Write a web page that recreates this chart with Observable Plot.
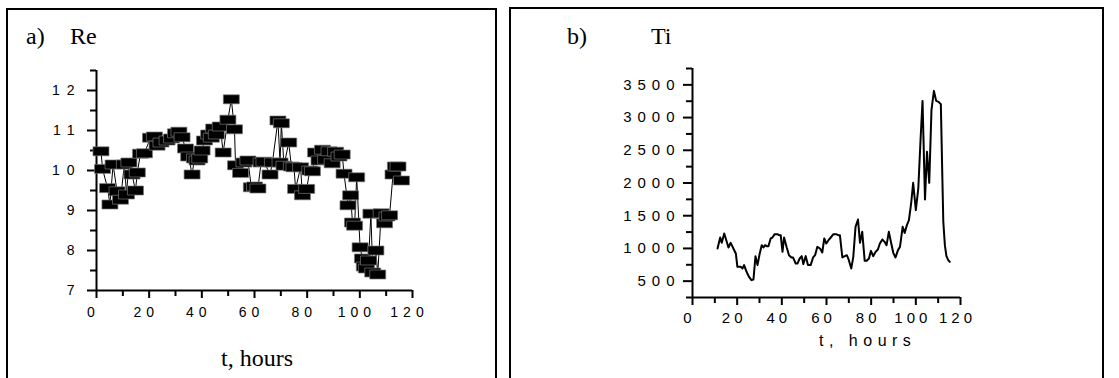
<!DOCTYPE html>
<html><head><meta charset="utf-8">
<script src="https://cdn.jsdelivr.net/npm/d3@7"></script>
<script src="https://cdn.jsdelivr.net/npm/@observablehq/plot@0.6"></script>
<style>
body{margin:0;background:#fff;width:1119px;height:378px;overflow:hidden;position:relative}
.box{position:absolute;border:2px solid #000;border-bottom:none;box-sizing:border-box}
.plot{position:absolute;top:0}
#titles{position:absolute;left:0;top:0}
</style></head><body>
<div id="a" class="plot" style="left:0"></div>
<div id="b" class="plot" style="left:505px"></div>
<div class="box" style="left:6px;top:8px;width:491px;height:380px"></div>
<div class="box" style="left:509px;top:7px;width:595px;height:380px"></div>
<svg id="titles" width="1119" height="378">
  <g font-family="Liberation Serif, Times New Roman, serif" font-size="24" fill="#000">
    <text x="26" y="44">a)</text>
    <text x="70" y="44">Re</text>
    <text x="257" y="366" text-anchor="middle">t, hours</text>
    <text x="567" y="44">b)</text>
    <text x="651" y="44">Ti</text>
  </g>
  <text x="819" y="346" font-family="Liberation Sans, Arial, sans-serif" font-size="16" letter-spacing="5.5">t, hours</text>
</svg>
<script>
// Panel a) Re
const reHours = [1.7,2.3,4.2,5.1,6.3,7.8,9.1,10.6,11.4,12.3,13.5,14.8,15.5,16.7,18.2,20.5,22.0,23.0,24.5,26.8,28.5,30.0,31.3,32.5,33.8,35.0,36.3,37.2,38.2,39.2,40.1,41.0,42.6,43.6,44.5,45.5,47.0,48.1,49.9,51.2,52.4,52.8,54.7,56.0,57.5,58.8,60.0,61.3,62.5,63.6,65.9,66.8,68.9,69.7,70.2,71.2,73.0,74.0,75.0,75.6,77.5,78.2,79.8,81.0,82.0,83.2,84.5,85.8,87.0,88.3,89.5,90.8,92.1,93.3,94.0,95.5,96.5,97.2,98.0,98.8,100.1,101.0,101.7,102.5,103.3,104.2,104.9,106.1,106.8,108.1,109.4,110.3,111.3,112.6,113.5,114.5,115.8];
const reValues = [10.48,10.04,9.56,9.15,10.15,9.48,9.27,10.15,9.4,10.2,9.9,9.5,9.95,10.42,10.43,10.82,10.85,10.62,10.7,10.75,10.8,10.93,10.97,10.83,10.55,10.35,9.9,10.3,10.25,10.3,10.5,10.75,10.9,10.82,11.05,10.9,11.1,10.45,11.27,11.78,11.03,10.13,9.94,10.2,10.25,9.58,9.6,9.55,10.2,10.22,9.9,10.2,11.25,10.2,11.18,10.12,10.7,10.1,10.08,9.54,10.08,9.38,9.54,10.0,9.98,10.45,10.25,10.52,10.27,10.48,10.18,10.47,10.35,10.4,9.92,9.13,9.38,8.7,8.62,9.83,8.08,7.8,7.6,7.55,7.75,8.92,7.45,8.0,7.4,8.93,8.68,8.85,8.88,9.9,10.1,10.1,9.75];
const reYTicks = [7,8,9,10,11,12];
const reYMinor = [7.5,8.5,9.5,10.5,11.5,12.5];
const xTicks = [0,20,40,60,80,100,120];
const xMinor = [10,30,50,70,90,110];

// Panel b) Ti
const tiHours = [11.2,12.4,13.1,14.2,14.9,16.1,17.1,18.3,19.4,20.1,21.6,22.4,23.1,24.2,25.3,26.4,27.3,28.2,29.1,30.1,31.0,31.8,32.5,33.2,34.0,35.0,35.8,36.8,38.0,38.8,39.5,40.3,41.0,42.2,43.2,44.3,45.0,46.2,47.0,48.0,48.9,49.6,50.7,51.7,52.9,54.0,54.9,55.9,57.1,58.1,59.0,59.9,60.9,61.9,63.1,64.3,65.3,66.0,67.1,68.2,69.1,69.9,71.1,72.0,73.0,74.1,75.0,76.0,77.1,78.0,79.0,79.9,80.9,82.0,83.0,83.9,85.0,86.0,86.9,87.9,89.0,89.9,90.9,92.0,92.9,94.1,95.0,96.0,96.9,97.9,98.8,100.0,101.1,102.1,103.0,104.1,105.0,106.0,107.0,108.1,109.1,110.2,111.2,111.9,112.3,113.0,113.7,114.5,115.2];
const tiValues = [999,1167,1086,1228,1152,1014,1086,999,923,719,719,694,745,643,566,515,525,882,745,923,1050,1014,1050,1035,1035,1152,1167,1218,1218,1203,1203,948,1167,1014,897,862,862,770,770,846,882,760,882,745,745,862,897,1024,999,938,1152,1075,1126,1167,1218,1218,1203,1203,862,882,897,831,694,872,1330,1442,1086,1254,811,811,846,963,882,948,984,1075,1137,1101,1050,1254,1075,933,862,974,1024,1330,1238,1356,1432,1687,2002,1585,1916,2654,3255,1748,2476,2002,3113,3408,3255,3240,3204,2043,1407,1050,882,821,795];
const tiYTicks = [500,1000,1500,2000,2500,3000,3500];
const tiYMinor = [250,750,1250,1750,2250,2750,3250,3750];

const reData = reHours.map((t, i) => ({t, v: reValues[i]}));
const tiData = tiHours.map((t, i) => ({t, v: tiValues[i]}));

const wideRect = {draw(ctx) { const w = 8, h = 4.5; ctx.moveTo(-w, -h); ctx.lineTo(w, -h); ctx.lineTo(w, h); ctx.lineTo(-w, h); ctx.closePath(); }};

const sans = "Liberation Sans, Arial, sans-serif";
const intFmt = d => String(d);

const left = Plot.plot({
  width: 500, height: 378,
  marginLeft: 96, marginRight: 88, marginTop: 70, marginBottom: 88,
  style: {fontFamily: sans, fontSize: "14px", background: "none", color: "#000"},
  x: {domain: [0, 120], label: null},
  y: {domain: [7, 12.5], label: null},
  marks: [
    Plot.axisY({ticks: reYTicks, tickSize: 9, tickPadding: 6, strokeWidth: 2, label: null, fontSize: 14, tickFormat: intFmt}),
    Plot.axisY({ticks: reYMinor, tickSize: 6, tickFormat: () => "", strokeWidth: 2, label: null}),
    Plot.axisX({ticks: xTicks, tickSize: 8, tickPadding: 9, strokeWidth: 2, label: null, fontSize: 14, tickFormat: intFmt}),
    Plot.axisX({ticks: xMinor, tickSize: 6, tickFormat: () => "", strokeWidth: 2, label: null}),
    Plot.ruleX([0], {stroke: "#000", strokeWidth: 2}),
    Plot.ruleY([7], {stroke: "#000", strokeWidth: 2}),
    Plot.line(reData, {x: "t", y: "v", stroke: "#000", strokeWidth: 1}),
    Plot.dot(reData, {x: "t", y: "v", symbol: wideRect, fill: "#000", stroke: "#777", strokeWidth: 0.7})
  ]
});
document.getElementById("a").append(left);

const right = Plot.plot({
  width: 614, height: 378,
  marginLeft: 187, marginRight: 159, marginTop: 68, marginBottom: 81,
  style: {fontFamily: sans, fontSize: "15px", background: "none", color: "#000"},
  x: {domain: [0, 120], label: null},
  y: {domain: [250, 3750], label: null},
  marks: [
    Plot.axisY({ticks: tiYTicks, tickSize: 9, tickPadding: 3, strokeWidth: 2, label: null, fontSize: 15, tickFormat: intFmt}),
    Plot.axisY({ticks: tiYMinor, tickSize: 6, tickFormat: () => "", strokeWidth: 2, label: null}),
    Plot.axisX({ticks: xTicks, tickSize: 8, tickPadding: 7, strokeWidth: 2, label: null, fontSize: 15, tickFormat: intFmt}),
    Plot.axisX({ticks: xMinor, tickSize: 6, tickFormat: () => "", strokeWidth: 2, label: null}),
    Plot.ruleX([0], {stroke: "#000", strokeWidth: 2}),
    Plot.ruleY([250], {stroke: "#000", strokeWidth: 2}),
    Plot.line(tiData, {x: "t", y: "v", stroke: "#000", strokeWidth: 2})
  ]
});
document.getElementById("b").append(right);

// letter-spaced tick labels as in the original figure (slightly left of their ticks)
d3.select(left).selectAll('g[aria-label="y-axis tick label"] text').attr("letter-spacing", "7px");
d3.select(left).selectAll('g[aria-label="x-axis tick label"] text').attr("letter-spacing", "5px").attr("dx", -3);
d3.select(right).selectAll('g[aria-label="y-axis tick label"] text').attr("letter-spacing", "6px");
d3.select(right).selectAll('g[aria-label="x-axis tick label"] text').attr("letter-spacing", "4px").attr("dx", -3);
</script>
</body></html>
